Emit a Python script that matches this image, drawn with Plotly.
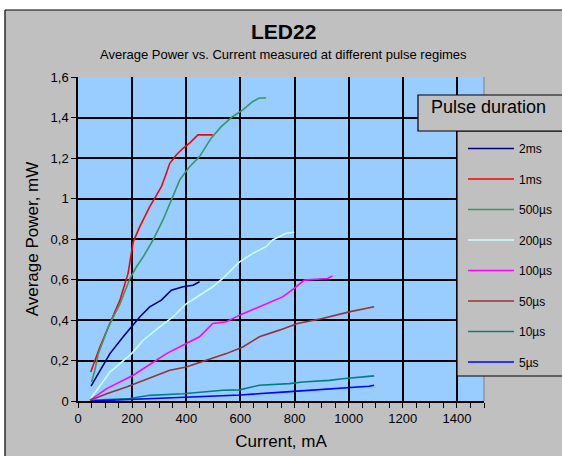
import plotly.graph_objects as go

# ---------------- data ----------------
series_names = ["2ms", "1ms", "500µs", "200µs", "100µs", "50µs", "10µs", "5µs"]
series_colors = ["#000080", "#FF0000", "#339966", "#CCFFFF", "#FF00FF", "#993333", "#008080", "#0000FF"]

i_2ms = [48, 81, 118, 167, 198, 228, 265, 308, 345, 388, 425, 449]
p_2ms = [0.073, 0.152, 0.234, 0.317, 0.366, 0.415, 0.465, 0.498, 0.547, 0.564, 0.572, 0.589]

i_1ms = [47, 63, 81, 118, 155, 185, 204, 228, 265, 290, 308, 324, 339, 363, 388, 412, 443, 498]
p_1ms = [0.143, 0.200, 0.267, 0.384, 0.498, 0.630, 0.786, 0.860, 0.960, 1.017, 1.058, 1.116, 1.174, 1.215, 1.248, 1.273, 1.314, 1.314]

i_500us = [50, 62, 75, 112, 155, 192, 216, 241, 277, 314, 345, 376, 412, 449, 492, 529, 572, 609, 646, 670, 695]
p_500us = [0.094, 0.150, 0.234, 0.366, 0.480, 0.605, 0.663, 0.712, 0.795, 0.894, 0.993, 1.092, 1.157, 1.207, 1.298, 1.355, 1.405, 1.438, 1.479, 1.496, 1.496]

i_200us = [47, 118, 198, 241, 302, 351, 400, 449, 498, 541, 597, 646, 695, 719, 769, 799]
p_200us = [0.012, 0.143, 0.234, 0.300, 0.366, 0.415, 0.480, 0.523, 0.564, 0.613, 0.687, 0.729, 0.762, 0.795, 0.828, 0.833]

i_100us = [44, 106, 204, 280, 327, 400, 449, 498, 548, 597, 695, 756, 799, 836, 922, 940]
p_100us = [0.003, 0.061, 0.127, 0.193, 0.234, 0.284, 0.317, 0.383, 0.391, 0.424, 0.480, 0.514, 0.556, 0.597, 0.605, 0.617]

i_50us = [44, 106, 179, 280, 339, 400, 474, 548, 609, 670, 744, 811, 903, 1002, 1094]
p_50us = [0.003, 0.036, 0.069, 0.119, 0.152, 0.168, 0.201, 0.234, 0.267, 0.317, 0.350, 0.383, 0.407, 0.440, 0.465]

i_10us = [50, 192, 265, 388, 535, 597, 670, 781, 830, 928, 977, 1094]
p_10us = [0.003, 0.012, 0.028, 0.036, 0.053, 0.055, 0.078, 0.086, 0.094, 0.102, 0.110, 0.124]

i_5us = [50, 150, 265, 400, 600, 770, 860, 960, 1075, 1094]
p_5us = [0.000, 0.005, 0.012, 0.020, 0.030, 0.045, 0.053, 0.065, 0.073, 0.078]

currents = [i_2ms, i_1ms, i_500us, i_200us, i_100us, i_50us, i_10us, i_5us]
powers = [p_2ms, p_1ms, p_500us, p_200us, p_100us, p_50us, p_10us, p_5us]

x_tick_vals = [0, 200, 400, 600, 800, 1000, 1200, 1400]
x_tick_text = ["0", "200", "400", "600", "800", "1000", "1200", "1400"]
y_tick_vals = [0, 0.2, 0.4, 0.6, 0.8, 1.0, 1.2, 1.4, 1.6]
y_tick_text = ["0", "0,2", "0,4", "0,6", "0,8", "1", "1,2", "1,4", "1,6"]

# ---------------- layout geometry ----------------
W, H = 562, 456
L, R, T, B = 78, 484, 77, 401
GRAY = "#C0C0C0"
FONT = "Liberation Sans"


def px(xp):
    return (xp - L) / (R - L)


def py(yp):
    return (B - yp) / (B - T)


fig = go.Figure()
for name, color, xs, ys in zip(series_names, series_colors, currents, powers):
    fig.add_trace(go.Scatter(
        x=xs, y=ys, mode="lines", name=name, legendgroup=name,
        line=dict(color=color, width=1.6),
    ))

shapes = [
    # white strips outside the chart border
    dict(type="rect", xref="paper", yref="paper", x0=px(-5), x1=px(W + 5), y0=py(10), y1=py(-5),
         fillcolor="white", line=dict(width=0), layer="below"),
    dict(type="rect", xref="paper", yref="paper", x0=px(-5), x1=px(5), y0=py(H + 5), y1=py(-5),
         fillcolor="white", line=dict(width=0), layer="below"),
    # chart border
    dict(type="line", xref="paper", yref="paper", x0=px(5), x1=px(W + 5), y0=py(10), y1=py(10),
         line=dict(color="black", width=1.2)),
    dict(type="line", xref="paper", yref="paper", x0=px(5), x1=px(5), y0=py(10), y1=py(H + 5),
         line=dict(color="black", width=1.2)),
    # right edge of plot area
    dict(type="line", xref="paper", yref="paper", x0=1, x1=1, y0=0, y1=1,
         line=dict(color="#808080", width=1)),
    # legend box
    dict(type="rect", xref="paper", yref="paper", x0=px(457), x1=px(W + 10), y0=py(376), y1=py(131),
         fillcolor=GRAY, line=dict(color="black", width=1.2), layer="above"),
    # legend title box
    dict(type="rect", xref="paper", yref="paper", x0=px(418), x1=px(W + 10), y0=py(131), y1=py(95),
         fillcolor=GRAY, line=dict(color="black", width=1.2), layer="above"),
]

annotations = [
    dict(text="<b>LED22</b>", xref="paper", yref="paper", x=px(283), y=py(31),
         xanchor="center", yanchor="middle",
         showarrow=False, font=dict(family=FONT, size=21, color="black")),
    dict(text="Average Power vs. Current measured at different pulse regimes", xref="paper", yref="paper",
         x=px(283), y=py(55), xanchor="center", yanchor="middle",
         showarrow=False, font=dict(family=FONT, size=13, color="black")),
    dict(text="Pulse duration", xref="paper", yref="paper", x=px(429), y=py(107),
         xanchor="left", yanchor="middle", showarrow=False, font=dict(family=FONT, size=18, color="black")),
]

fig.update_layout(
    width=W, height=H,
    margin=dict(l=L, r=W - R, t=T, b=H - B, autoexpand=False),
    paper_bgcolor=GRAY,
    plot_bgcolor="#99CCFF",
    font=dict(family=FONT, color="black"),
    shapes=shapes,
    annotations=annotations,
    showlegend=True,
    legend=dict(
        xref="container", yref="container",
        x=463 / W, y=1 - 134 / H, xanchor="left", yanchor="top",
        bgcolor="rgba(0,0,0,0)", borderwidth=0,
        font=dict(family=FONT, size=12, color="black"),
        tracegroupgap=11.5, itemwidth=46, maxheight=400,
    ),
    xaxis=dict(
        range=[0, 1500], tickvals=x_tick_vals, ticktext=x_tick_text,
        showgrid=True, gridcolor="black", gridwidth=1.5,
        showline=True, linecolor="black", linewidth=1.5,
        ticks="outside", ticklen=5, tickcolor="black", tickwidth=1.2,
        minor=dict(dtick=50, ticks="outside", ticklen=5, tickcolor="black", tickwidth=1.2, showgrid=False),
        tickfont=dict(family=FONT, size=13, color="black"),
        title=dict(text="Current, mA", font=dict(family=FONT, size=17, color="black"), standoff=10),
        zeroline=False, fixedrange=True,
    ),
    yaxis=dict(
        range=[0, 1.6], tickvals=y_tick_vals, ticktext=y_tick_text,
        showgrid=True, gridcolor="black", gridwidth=1.5,
        showline=True, linecolor="black", linewidth=1.5,
        ticks="outside", ticklen=5, tickcolor="black", tickwidth=1.2,
        tickfont=dict(family=FONT, size=13, color="black"),
        title=dict(text="Average Power, mW", font=dict(family=FONT, size=17, color="black"), standoff=8),
        zeroline=False, fixedrange=True,
    ),
)

fig.write_html(
    "out.html",
    config={"displayModeBar": False},
    post_script=(
        "document.body.style.margin='0px';"
        "document.body.style.overflow='hidden';"
        "document.documentElement.style.overflow='hidden';"
        "document.body.style.background='#C0C0C0';"
    ),
)
